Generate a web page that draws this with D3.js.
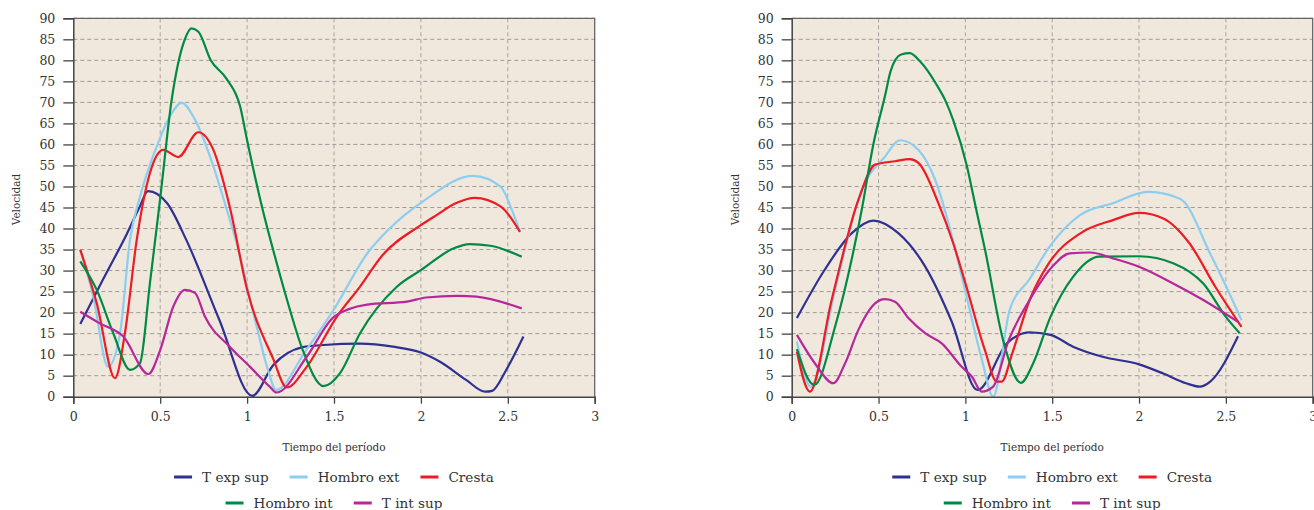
<!DOCTYPE html>
<html>
<head>
<meta charset="utf-8">
<script src="https://cdn.jsdelivr.net/npm/d3@7"></script>
<style>
body { margin: 0; background: #fff; }
svg text { font-family: "DejaVu Serif", serif; fill: #333; }
</style>
</head>
<body>
<svg id="chart" width="1314" height="510"></svg>
<script>
// Series names and colours
var series_names = ["T exp sup", "Hombro ext", "Cresta", "Hombro int", "T int sup"];
var series_cols = ["#2e3192", "#8dcdf0", "#ed1c24", "#008a44", "#b5279a"];

var x_ticks = [0, 0.5, 1, 1.5, 2, 2.5, 3];
var y_ticks = [0, 5, 10, 15, 20, 25, 30, 35, 40, 45, 50, 55, 60, 65, 70, 75, 80, 85, 90];

// Left panel, [tiempo, velocidad]
var izq_t_exp_sup = [[0.04,17.3],[0.17,27.8],[0.31,38.9],[0.38,45],[0.43,48.9],[0.54,46],[0.65,37.3],[0.84,18.3],[1.03,0.2],[1.15,7.5],[1.32,11.8],[1.44,12.3],[1.65,12.6],[1.84,11.9],[2.0,10.5],[2.11,8.3],[2.26,4.0],[2.37,1.2],[2.41,1.4],[2.49,6.3],[2.59,14.3]];
var izq_hombro_ext = [[0.04,34.9],[0.115,23.8],[0.2,7.1],[0.269,15.1],[0.326,37.3],[0.384,47.6],[0.48,59.5],[0.556,66.7],[0.624,69.9],[0.70,65.9],[0.806,54.8],[0.883,44.5],[0.94,36.5],[1.055,16.7],[1.12,6.4],[1.166,1.6],[1.34,11.1],[1.5,20.8],[1.69,34],[1.82,40],[2.02,46.7],[2.30,52.5],[2.46,49.9],[2.52,44.8],[2.57,39.2]];
var izq_cresta = [[0.04,35],[0.135,22.2],[0.24,4.4],[0.297,15.1],[0.365,37.3],[0.441,53.2],[0.518,58.7],[0.604,57],[0.719,62.9],[0.806,58.7],[0.90,45.2],[1.0,25.5],[1.15,9],[1.228,2.2],[1.343,7.1],[1.516,19],[1.65,26.2],[1.78,33.7],[2.0,40.8],[2.09,43.2],[2.2,46],[2.31,47.3],[2.46,45.2],[2.57,39.2]];
var izq_hombro_int = [[0.04,32.2],[0.135,25.4],[0.23,15.1],[0.326,6.4],[0.384,8],[0.441,27],[0.499,46.8],[0.566,70.6],[0.64,84.8],[0.68,87.6],[0.72,86.8],[0.79,80.1],[0.88,75.7],[0.96,69],[1.0,61],[1.09,44.4],[1.15,34.9],[1.23,23],[1.32,11.1],[1.44,2.5],[1.535,5.6],[1.65,15.1],[1.86,26.1],[2.0,30.1],[2.19,35.3],[2.28,36.3],[2.4,35.9],[2.58,33.3]];
var izq_t_int_sup = [[0.04,20.2],[0.15,17.5],[0.288,14.3],[0.432,5.4],[0.5,11.1],[0.575,21.4],[0.643,25.4],[0.70,24.7],[0.758,19],[0.90,11.9],[1.017,7.1],[1.13,2.4],[1.17,1],[1.343,9.5],[1.5,19],[1.69,21.9],[1.92,22.6],[2.03,23.6],[2.21,24],[2.32,23.8],[2.58,21]];

// Right panel
var der_t_exp_sup = [[0.03,18.7],[0.19,30.2],[0.346,38.9],[0.47,41.9],[0.614,38.9],[0.768,31],[0.92,18],[1.07,1.6],[1.24,12.7],[1.37,15.3],[1.49,14.7],[1.62,11.9],[1.79,9.5],[2.0,7.7],[2.14,5.5],[2.27,3.2],[2.35,2.4],[2.41,3.6],[2.57,14.4]];
var der_hombro_ext = [[0.03,13.1],[0.11,2.4],[0.25,25.4],[0.403,49.2],[0.537,57.1],[0.624,61],[0.73,58.7],[0.826,51.6],[0.93,37],[1.0,25],[1.094,9],[1.16,0],[1.255,20.6],[1.37,28],[1.485,35.7],[1.66,43.2],[1.85,46],[2.05,48.7],[2.21,47.5],[2.25,46.7],[2.41,34],[2.52,24.6],[2.59,18.2]];
var der_cresta = [[0.03,10.7],[0.105,1.2],[0.23,23],[0.384,46.8],[0.48,55.2],[0.595,56],[0.68,56.5],[0.73,55.6],[0.845,46],[0.93,36.5],[1.0,27],[1.113,11],[1.18,3.6],[1.21,3.6],[1.27,10.3],[1.37,23],[1.48,31.7],[1.66,38.8],[1.85,42],[2.0,43.7],[2.14,42.4],[2.29,36.5],[2.44,26.1],[2.59,16.6]];
var der_hombro_int = [[0.03,11.3],[0.13,2.8],[0.25,16.7],[0.403,44.4],[0.47,60],[0.537,71.5],[0.57,77.5],[0.63,81.4],[0.68,81.7],[0.74,79.7],[0.83,74.5],[0.883,70.6],[0.93,65.8],[1.008,55],[1.06,45],[1.113,35],[1.22,13],[1.32,3.3],[1.39,7.9],[1.49,19],[1.62,28.5],[1.77,33.3],[2.0,33.4],[2.2,31.7],[2.37,26.9],[2.5,19],[2.58,15.1]];
var der_t_int_sup = [[0.03,14.7],[0.134,7.9],[0.24,3.2],[0.307,7.9],[0.384,15.9],[0.48,22.2],[0.537,23.2],[0.595,22.6],[0.672,18.7],[0.768,15.1],[0.864,12.7],[0.979,7.1],[1.037,4.8],[1.094,1.2],[1.16,2.4],[1.25,13.5],[1.37,23],[1.5,30.9],[1.6,34.1],[1.72,34.3],[1.85,32.9],[2.0,30.9],[2.18,27.3],[2.37,23],[2.57,17.8]];

var svg = d3.select("#chart");

function draw_panel(x0, x1, data_list) {
    var top = 18.3, bottom = 396.7;
    var scales = {
	x: d3.scaleLinear().domain([0, 3]).range([x0, x1]),
	y: d3.scaleLinear().domain([0, 90]).range([bottom, top])
    };
    var g = svg.append("g");

    g.append("rect")
	.attr("x", x0).attr("y", top)
	.attr("width", x1 - x0).attr("height", bottom - top)
	.style("fill", "#f0e8dc");

    // grid
    g.selectAll(".hgrid").data(y_ticks.slice(1)).enter().append("line")
	.attr("x1", x0).attr("x2", x1)
	.attr("y1", function(d) {return scales.y(d);})
	.attr("y2", function(d) {return scales.y(d);})
	.style("stroke", "#9e9a98").style("stroke-width", 1)
	.style("stroke-dasharray", "4,3");
    g.selectAll(".vgrid").data(x_ticks.slice(1, -1)).enter().append("line")
	.attr("y1", top).attr("y2", bottom)
	.attr("x1", function(d) {return scales.x(d);})
	.attr("x2", function(d) {return scales.x(d);})
	.style("stroke", "#a8a4a2").style("stroke-width", 1)
	.style("stroke-dasharray", "4,3");

    // frame top/right
    g.append("path")
	.attr("d", "M" + x0 + "," + top + "H" + x1 + "V" + bottom)
	.style("fill", "none").style("stroke", "#666").style("stroke-width", 1.3);

    // curves
    var line = d3.line()
	.x(function(d) {return scales.x(d[0]);})
	.y(function(d) {return scales.y(d[1]);})
	.curve(d3.curveMonotoneX);
    data_list.forEach(function(s, i) {
	g.append("path")
	    .datum(s)
	    .attr("d", line)
	    .style("fill", "none")
	    .style("stroke", series_cols[i])
	    .style("stroke-width", 2.2)
	    .style("stroke-linejoin", "round");
    });

    // axes
    var ax = g.append("g")
	.attr("transform", "translate(0," + bottom + ")")
	.call(d3.axisBottom(scales.x).tickValues(x_ticks).tickSize(7).tickPadding(8)
	      .tickFormat(function(d) {return d;}));
    var ay = g.append("g")
	.attr("transform", "translate(" + x0 + ",0)")
	.call(d3.axisLeft(scales.y).tickValues(y_ticks).tickSize(10).tickPadding(8));
    [ax, ay].forEach(function(a) {
	a.select(".domain").style("stroke", "#444").style("stroke-width", 1.5);
	a.selectAll(".tick line").style("stroke", "#444").style("stroke-width", 1.3);
	a.selectAll("text").style("font-size", "12.5px")
	    .style("font-family", "'DejaVu Serif', serif").style("fill", "#333");
    });

    var cx = (x0 + x1) / 2;
    g.append("text")
	.attr("x", cx).attr("y", 451)
	.attr("text-anchor", "middle")
	.style("font-size", "10.5px")
	.text("Tiempo del período");
    g.append("text")
	.attr("transform", "translate(" + (x0 - 53) + "," + ((top + bottom) / 2 - 8) + ") rotate(-90)")
	.attr("text-anchor", "middle")
	.style("font-size", "10.5px")
	.text("Velocidad");

    // legend
    var rows = [[0, 1, 2], [3, 4]];
    rows.forEach(function(row, r) {
	var lg = g.append("g");
	var xpos = 0;
	row.forEach(function(i) {
	    lg.append("line")
		.attr("x1", xpos).attr("x2", xpos + 18)
		.attr("y1", 0).attr("y2", 0)
		.style("stroke", series_cols[i]).style("stroke-width", 3);
	    var t = lg.append("text")
		.attr("x", xpos + 28).attr("y", 5)
		.style("font-size", "13.6px")
		.text(series_names[i]);
	    xpos += 28 + t.node().getComputedTextLength() + 21;
	});
	var w = xpos - 21;
	lg.attr("transform", "translate(" + (cx - w / 2) + "," + (477 + r * 26) + ")");
    });
}

draw_panel(73.3, 594.7, [izq_t_exp_sup, izq_hombro_ext, izq_cresta, izq_hombro_int, izq_t_int_sup]);
draw_panel(791.7, 1312.7, [der_t_exp_sup, der_hombro_ext, der_cresta, der_hombro_int, der_t_int_sup]);
</script>
</body>
</html>
